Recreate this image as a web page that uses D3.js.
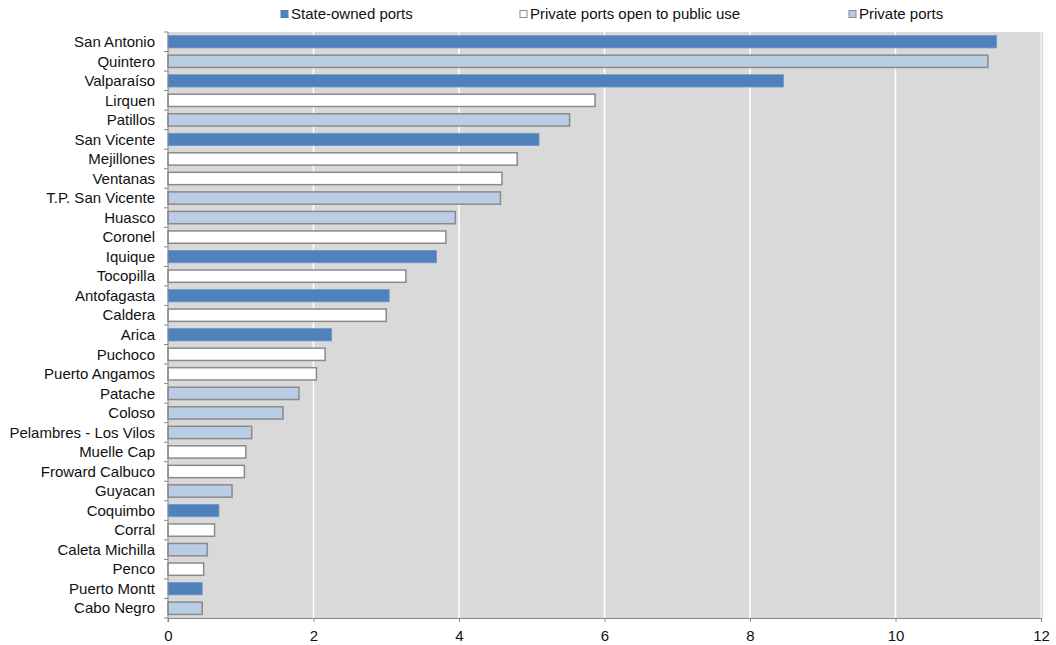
<!DOCTYPE html>
<html>
<head>
<meta charset="utf-8">
<script src="https://cdn.jsdelivr.net/npm/d3@7"></script>
<style>
  html, body { margin: 0; padding: 0; background: #ffffff; }
  svg { display: block; font-family: "Liberation Sans", Arial, sans-serif; }
</style>
</head>
<body>
<svg id="chart" width="1056" height="645"></svg>
<script>
// Port names, top to bottom
const ports = [
  "San Antonio", "Quintero", "Valparaíso", "Lirquen", "Patillos", "San Vicente",
  "Mejillones", "Ventanas", "T.P. San Vicente", "Huasco", "Coronel", "Iquique",
  "Tocopilla", "Antofagasta", "Caldera", "Arica", "Puchoco", "Puerto Angamos",
  "Patache", "Coloso", "Pelambres - Los Vilos", "Muelle Cap", "Froward Calbuco",
  "Guyacan", "Coquimbo", "Corral", "Caleta Michilla", "Penco", "Puerto Montt", "Cabo Negro"
];

// Throughput per port
const volumes = [
  11.39, 11.27, 8.46, 5.87, 5.52, 5.10,
  4.80, 4.59, 4.57, 3.95, 3.82, 3.69,
  3.27, 3.04, 3.00, 2.25, 2.16, 2.04,
  1.80, 1.58, 1.15, 1.07, 1.05,
  0.88, 0.70, 0.64, 0.54, 0.49, 0.47, 0.47
];

// Ownership type per port: 0 = state-owned, 1 = private open to public use, 2 = private
const ownership = [
  0, 2, 0, 1, 2, 0,
  1, 1, 2, 2, 1, 0,
  1, 0, 1, 0, 1, 1,
  2, 2, 2, 1, 1,
  2, 0, 1, 2, 1, 0, 2
];

const seriesNames = ["State-owned ports", "Private ports open to public use", "Private ports"];
const xTicks = [0, 2, 4, 6, 8, 10, 12];

const fills   = ["#4f81bd", "#ffffff", "#b9cde5"];
const strokes = ["#6f97c9", "#8a8a8a", "#8a8a8a"];

const rows = ports.map((p, i) => ({ port: p, value: volumes[i], type: ownership[i] }));

const svg = d3.select("#chart");
const margin = { left: 168, right: 1041, top: 32, bottom: 618 };

const x = d3.scaleLinear().domain([0, 12]).range([margin.left, margin.right]);
const y = d3.scaleBand().domain(ports).range([margin.top, margin.bottom]).paddingInner(0.37).paddingOuter(0.185);

// plot background
svg.append("rect")
  .attr("x", margin.left).attr("y", margin.top)
  .attr("width", x(12) - x(0) + 2).attr("height", margin.bottom - margin.top)
  .attr("fill", "#d9d9d9");

// vertical gridlines
svg.append("g").selectAll("line")
  .data(xTicks.filter(t => t > 0))
  .join("line")
  .attr("x1", d => x(d)).attr("x2", d => x(d))
  .attr("y1", margin.top).attr("y2", margin.bottom)
  .attr("stroke", d => d === 12 ? "#f0f0f0" : "#ffffff")
  .attr("stroke-width", 1.5);

// bars
svg.append("g").selectAll("rect")
  .data(rows)
  .join("rect")
  .attr("x", x(0))
  .attr("y", d => y(d.port))
  .attr("width", d => x(d.value) - x(0))
  .attr("height", y.bandwidth())
  .attr("fill", d => fills[d.type])
  .attr("stroke", d => strokes[d.type])
  .attr("stroke-width", d => d.type === 0 ? 0.8 : 1.5);

// y axis: ticks at category boundaries
const yAxisG = svg.append("g");
yAxisG.append("line")
  .attr("x1", margin.left).attr("x2", margin.left)
  .attr("y1", margin.top).attr("y2", margin.bottom + 4)
  .attr("stroke", "#868686").attr("stroke-width", 1);
const boundaries = d3.range(ports.length + 1).map(i => margin.top + i * (margin.bottom - margin.top) / ports.length);
yAxisG.selectAll("line.tick")
  .data(boundaries)
  .join("line")
  .attr("class", "tick")
  .attr("x1", margin.left - 4).attr("x2", margin.left)
  .attr("y1", d => d).attr("y2", d => d)
  .attr("stroke", "#868686");
yAxisG.selectAll("text")
  .data(ports)
  .join("text")
  .attr("x", 155)
  .attr("y", d => y(d) + y.bandwidth() / 2)
  .attr("dy", "0.35em")
  .attr("text-anchor", "end")
  .attr("font-size", 15)
  .attr("fill", "#111111")
  .text(d => d);

// x axis
const xAxis = d3.axisBottom(x).tickValues(xTicks).tickSize(4).tickPadding(8).tickSizeOuter(0);
const xg = svg.append("g").attr("transform", `translate(0,${margin.bottom})`).call(xAxis);
xg.select(".domain").attr("stroke", "#868686");
xg.selectAll(".tick line").attr("stroke", "#868686");
xg.selectAll(".tick text").attr("font-size", 15).attr("fill", "#111111").attr("font-family", "Liberation Sans, Arial, sans-serif");

// legend
const legendX = [281, 520, 849];
const lg = svg.append("g").selectAll("g")
  .data(seriesNames)
  .join("g")
  .attr("transform", (d, i) => `translate(${legendX[i]},14)`);
lg.append("rect")
  .attr("x", 0).attr("y", -3.5).attr("width", 7).attr("height", 7)
  .attr("fill", (d, i) => fills[i])
  .attr("stroke", (d, i) => i === 0 ? fills[0] : "#8a8a8a")
  .attr("stroke-width", 1);
lg.append("text")
  .attr("x", 10).attr("y", 0).attr("dy", "0.35em")
  .attr("font-size", 15)
  .attr("fill", "#111111")
  .text(d => d);
</script>
</body>
</html>
